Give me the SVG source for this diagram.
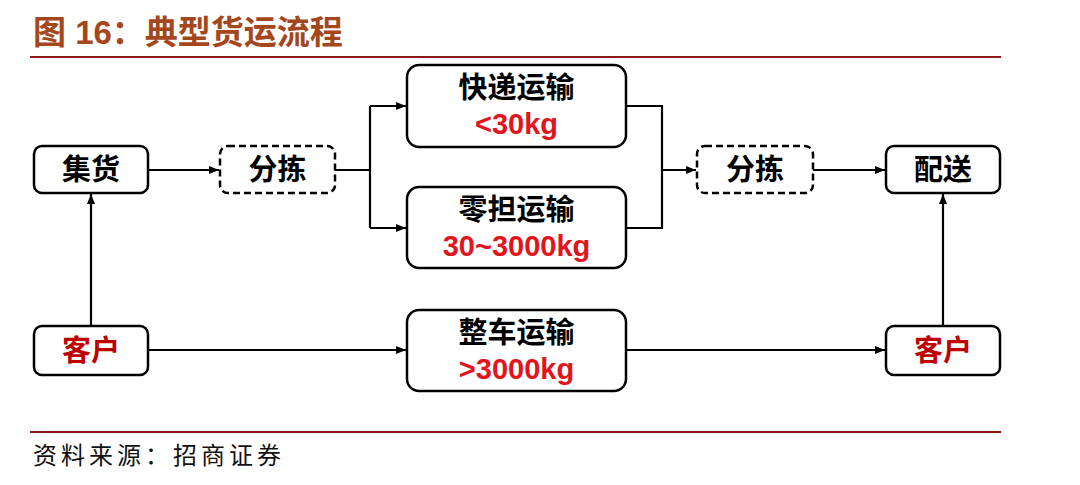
<svg xmlns="http://www.w3.org/2000/svg" width="1080" height="485" viewBox="0 0 1080 485">
<style>
.t{font-family:"Liberation Sans","Noto Sans CJK SC",sans-serif;font-weight:bold;text-anchor:middle}
.box{fill:#fff;stroke:#000;stroke-width:2.5}
.dash{fill:#fff;stroke:#000;stroke-width:2.5;stroke-dasharray:7 4}
.blk{fill:#000;font-size:29px}
.red{fill:#E3141B;font-size:29px}
.dred{fill:#C00000;font-size:29px}
.c{fill:none;stroke:#000;stroke-width:2.2}
</style>
<defs>
<marker id="a" viewBox="0 0 10 10" refX="10" refY="5" markerWidth="10" markerHeight="10" orient="auto" markerUnits="userSpaceOnUse">
<path d="M0,1 L10,5 L0,9 z" fill="#000"/>
</marker>
</defs>
<rect width="1080" height="485" fill="#fff"/>
<text x="33" y="44" style="font-family:'Liberation Sans','Noto Sans CJK SC',sans-serif;font-weight:bold;font-size:33px;fill:#A5471C">图 16：典型货运流程</text>
<line x1="30" y1="57" x2="1001" y2="57" stroke="#8B1A1A" stroke-width="2"/>
<g id="connectors">
<path class="c" d="M148,170 H219" marker-end="url(#a)"/>
<path class="c" d="M335,170 H370 M370,106 V228"/>
<path class="c" d="M370,106 H406" marker-end="url(#a)"/>
<path class="c" d="M370,228 H406" marker-end="url(#a)"/>
<path class="c" d="M626,106 H662 V228 H626"/>
<path class="c" d="M662,170 H696" marker-end="url(#a)"/>
<path class="c" d="M813,170 H885" marker-end="url(#a)"/>
<path class="c" d="M91,326 V194" marker-end="url(#a)"/>
<path class="c" d="M148,350 H406" marker-end="url(#a)"/>
<path class="c" d="M626,350 H885" marker-end="url(#a)"/>
<path class="c" d="M943,326 V194" marker-end="url(#a)"/>
</g>
<g id="jihuo"><rect class="box" x="34" y="146" width="114" height="47" rx="8"/><text class="t blk" x="91" y="180">集货</text></g>
<g id="fenjian1"><rect class="dash" x="220" y="146" width="115" height="47" rx="8"/><text class="t blk" x="277.5" y="180">分拣</text></g>
<g id="kuaidi"><rect class="box" x="407" y="65" width="219" height="82" rx="12"/><text class="t blk" x="516.5" y="98">快递运输</text><text class="t red" x="516.5" y="134">&lt;30kg</text></g>
<g id="lingdan"><rect class="box" x="407" y="187" width="219" height="81" rx="12"/><text class="t blk" x="516.5" y="220">零担运输</text><text class="t red" x="516.5" y="256">30~3000kg</text></g>
<g id="fenjian2"><rect class="dash" x="697" y="146" width="116" height="47" rx="8"/><text class="t blk" x="755" y="180">分拣</text></g>
<g id="peisong"><rect class="box" x="886" y="146" width="114" height="47" rx="8"/><text class="t blk" x="943" y="180">配送</text></g>
<g id="kehu1"><rect class="box" x="34" y="326" width="114" height="49" rx="8"/><text class="t dred" x="91" y="361">客户</text></g>
<g id="zhengche"><rect class="box" x="407" y="310" width="219" height="81" rx="12"/><text class="t blk" x="516.5" y="343">整车运输</text><text class="t red" x="516.5" y="379">&gt;3000kg</text></g>
<g id="kehu2"><rect class="box" x="886" y="326" width="114" height="49" rx="8"/><text class="t dred" x="943" y="361">客户</text></g>
<line x1="30" y1="432" x2="1001" y2="432" stroke="#8B1A1A" stroke-width="2"/>
<text x="33" y="464" letter-spacing="4" style="font-family:'Liberation Sans','Noto Sans CJK SC',sans-serif;font-size:24px;fill:#111">资料来源：招商证券</text>
</svg>
